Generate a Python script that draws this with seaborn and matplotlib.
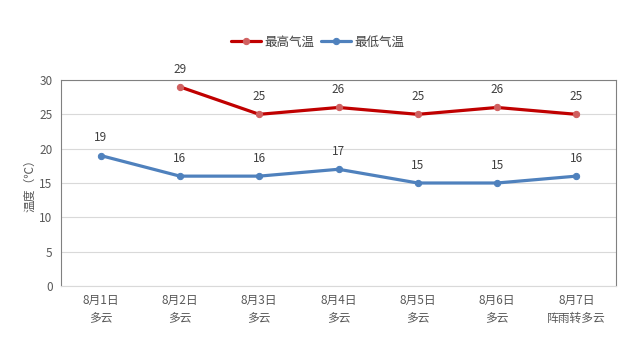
import numpy as np
import pandas as pd
import matplotlib
matplotlib.use("Agg")
import matplotlib.pyplot as plt
import seaborn as sns

dates = ["8月1日", "8月2日", "8月3日", "8月4日", "8月5日", "8月6日", "8月7日"]
weather = ["多云", "多云", "多云", "多云", "多云", "多云", "阵雨转多云"]
high_temp = [np.nan, 29, 25, 26, 25, 26, 25]
low_temp = [19, 16, 16, 17, 15, 15, 16]
y_ticks = [0, 5, 10, 15, 20, 25, 30]

series_names = ["最高气温", "最低气温"]
line_colors = {"最高气温": "#C00000", "最低气温": "#4F81BD"}
marker_colors = {"最高气温": "#D06060", "最低气温": "#4F81BD"}

sns.set_theme(style="white")
plt.rcParams["font.family"] = ["Noto Sans CJK SC", "DejaVu Sans"]

idx = list(range(len(dates)))
df = pd.DataFrame({
    "idx": idx * 2,
    "temp": high_temp + low_temp,
    "series": [series_names[0]] * len(dates) + [series_names[1]] * len(dates),
})

fig = plt.figure(figsize=(6.36, 3.4), dpi=100)
ax = fig.add_axes([61 / 636, 54 / 340, 555 / 636, 206 / 340])

for name in series_names:
    sub = df[df["series"] == name].dropna()
    sns.lineplot(data=sub, x="idx", y="temp", ax=ax, color=line_colors[name],
                 linewidth=2.3, marker="o", markersize=4.5,
                 markerfacecolor=marker_colors[name], markeredgecolor=marker_colors[name],
                 label=name, legend=False)
    for x, v in zip(sub["idx"], sub["temp"]):
        ax.annotate(f"{int(v)}", (x, v), xytext=(0, 8), textcoords="offset points",
                    ha="center", va="bottom", fontsize=8.5, color="#404040")

ax.set_xlim(-0.5, len(dates) - 0.5)
ax.set_ylim(0, 30)
ax.set_yticks(y_ticks)
ax.set_yticklabels([str(t) for t in y_ticks], fontsize=8.5, color="#595959")
ax.set_xticks(idx)
ax.set_xticklabels([f"{d}\n{w}" for d, w in zip(dates, weather)], fontsize=8.5,
                   color="#595959", linespacing=1.45)
ax.set_xticks(np.arange(-0.5, len(dates), 1), minor=True)
ax.tick_params(axis="x", which="major", length=0, pad=6)
ax.tick_params(axis="x", which="minor", length=5, color="#D9D9D9", width=0.8, direction="out")
ax.tick_params(axis="y", length=0, pad=6)
ax.grid(axis="y", color="#D9D9D9", linewidth=0.8)
ax.set_axisbelow(True)
ax.set_xlabel("")
ax.set_ylabel("温度（℃）", fontsize=8.5, color="#595959", labelpad=2)

for side in ["left", "top", "right"]:
    ax.spines[side].set_color("#808080")
    ax.spines[side].set_linewidth(0.8)
ax.spines["bottom"].set_color("#D9D9D9")
ax.spines["bottom"].set_linewidth(0.8)

handles, labels = ax.get_legend_handles_labels()
fig.legend(handles, labels, loc="center", bbox_to_anchor=(0.5, 0.876), ncol=2,
           frameon=False, fontsize=9, handlelength=2.4, columnspacing=0.5,
           handletextpad=0.3, labelcolor="#404040")

fig.savefig("out.png", dpi=100, facecolor="white")
